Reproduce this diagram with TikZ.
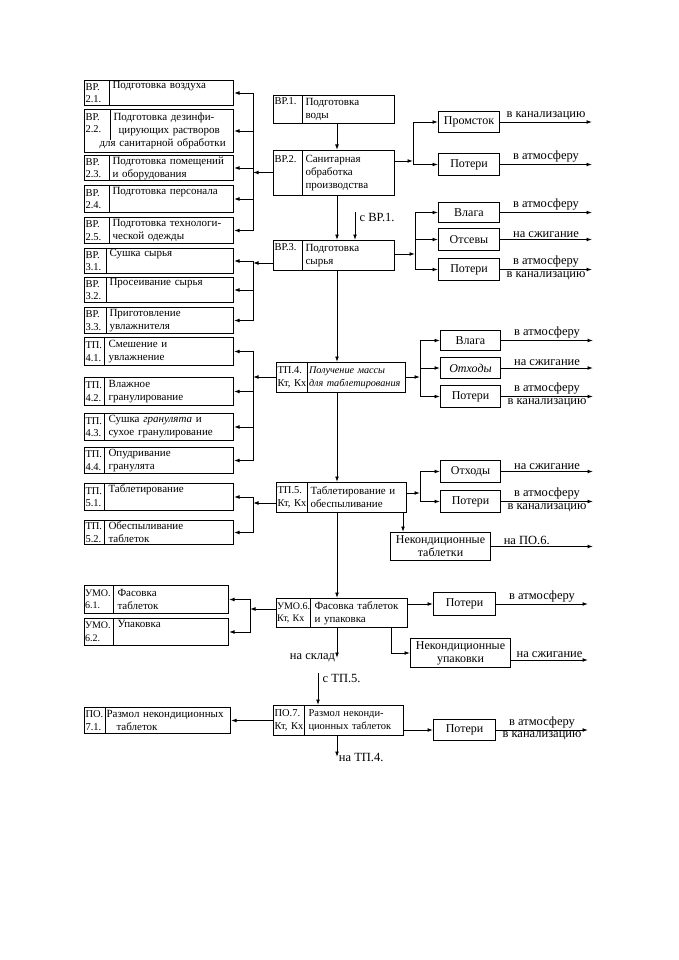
\documentclass[tikz,border=0pt]{standalone}
\usepackage{fontspec}
\setmainfont{Liberation Serif}
\usetikzlibrary{arrows.meta}

\begin{document}
\begin{tikzpicture}[x=1pt,y=-1pt,>={Latex[length=5.5pt,width=3.8pt]},
  font=\fontsize{11}{13}\selectfont,
  idcell/.style={draw,line width=1pt,anchor=north west,align=left,inner xsep=1pt,inner ysep=0pt,font=\fontsize{10.5}{12.5}\selectfont},
  namecell/.style={draw,line width=1pt,anchor=north west,align=left,inner xsep=3pt,inner ysep=0pt},
  outbox/.style={draw,line width=1pt,anchor=north west,align=center,inner sep=1pt,font=\fontsize{12}{13}\selectfont},
  flow/.style={->,line width=0.9pt},
  outlbl/.style={inner sep=1.5pt,font=\fontsize{12.5}{13}\selectfont}]
\useasboundingbox (0,0) rectangle (678,960);
\coordinate (spine) at (337,0);
\coordinate (rimA) at (592,0);
\coordinate (rimB) at (593,0);
\coordinate (rimC) at (588,0);

\node[idcell,minimum width=29pt,minimum height=28pt,text width=27pt] (vr1id) at (273,95) {ВР.1.\\\strut};
\node[namecell,minimum width=92pt,minimum height=28pt,text width=86pt] (vr1) at (302,95) {Подготовка\\воды};
\node[idcell,minimum width=29pt,minimum height=45pt,text width=27pt] (vr2id) at (273,150) {ВР.2.\\\strut\\\strut};
\node[namecell,minimum width=92pt,minimum height=45pt,text width=86pt] (vr2) at (302,150) {Санитарная\\обработка\\производства};
\node[idcell,minimum width=29pt,minimum height=30pt,text width=27pt] (vr3id) at (273,240) {ВР.3.\\\strut};
\node[namecell,minimum width=92pt,minimum height=30pt,text width=86pt] (vr3) at (302,240) {Подготовка\\сырья};
\node[idcell,minimum width=31pt,minimum height=30pt,text width=29pt] (tp4id) at (276,362) {ТП.4.\\Кт, Кх};
\node[namecell,minimum width=98pt,minimum height=30pt,text width=95pt,inner xsep=1.5pt,font=\fontsize{10.2}{13}\selectfont\itshape] (tp4) at (307,362) {Получение массы\\для таблетирования};
\node[idcell,minimum width=31pt,minimum height=30pt,text width=29pt] (tp5id) at (276,482) {ТП.5.\\Кт, Кх};
\node[namecell,minimum width=99pt,minimum height=30pt,text width=93pt] (tp5) at (307,482) {Таблетирование и\\обеспыливание};
\node[idcell,minimum width=34pt,minimum height=29pt,text width=33pt,inner xsep=0.5pt,font=\fontsize{10}{12.5}\selectfont] (umo6id) at (276,598) {УМО.6.\\Кт, Кх};
\node[namecell,minimum width=97pt,minimum height=29pt,text width=89pt,inner xsep=4pt] (umo6) at (310,598) {Фасовка таблеток\\и упаковка};
\node[idcell,minimum width=31pt,minimum height=30pt,text width=29pt] (po7id) at (273,705) {ПО.7.\\Кт, Кх};
\node[namecell,minimum width=99pt,minimum height=30pt,text width=91pt,inner xsep=4pt,font=\fontsize{10.5}{13}\selectfont] (po7) at (304,705) {Размол неконди-\\ционных таблеток};

\node[idcell,minimum width=25pt,minimum height=25pt,text width=23pt] (vr21id) at (84,80) {ВР.\\2.1.};
\node[namecell,minimum width=124pt,minimum height=25pt,text width=118pt] (vr21) at (109,80) {Подготовка воздуха\\\strut};
\node[idcell,draw=none,minimum width=25pt,minimum height=43pt,text width=23pt] (vr22id) at (84,109) {ВР.\\2.2.\\\strut};
\node[namecell,minimum width=149pt,minimum height=43pt,text width=145pt,inner xsep=2pt] (vr22) at (84,109) {\hspace*{27pt}Подготовка дезинфи-\\\hspace*{32pt}цирующих растворов\\\hspace*{13pt}для санитарной обработки};
\draw[line width=1pt] (vr22id.north east) -- ++(0,31);
\node[idcell,minimum width=25pt,minimum height=25pt,text width=23pt] (vr23id) at (84,155) {ВР.\\2.3.};
\node[namecell,minimum width=124pt,minimum height=25pt,text width=118pt] (vr23) at (109,155) {Подготовка помещений\\и оборудования};
\node[idcell,minimum width=25pt,minimum height=27pt,text width=23pt] (vr24id) at (84,185) {ВР.\\2.4.};
\node[namecell,minimum width=124pt,minimum height=27pt,text width=118pt] (vr24) at (109,185) {Подготовка персонала\\\strut};
\node[idcell,minimum width=25pt,minimum height=26pt,text width=23pt] (vr25id) at (84,217) {ВР.\\2.5.};
\node[namecell,minimum width=124pt,minimum height=26pt,text width=118pt] (vr25) at (109,217) {Подготовка технологи-\\ческой одежды};
\node[idcell,minimum width=22pt,minimum height=25pt,text width=20pt] (vr31id) at (84,248) {ВР.\\3.1.};
\node[namecell,minimum width=127pt,minimum height=25pt,text width=121pt] (vr31) at (106,248) {Сушка сырья\\\strut};
\node[idcell,minimum width=22pt,minimum height=25pt,text width=20pt] (vr32id) at (84,277) {ВР.\\3.2.};
\node[namecell,minimum width=127pt,minimum height=25pt,text width=121pt] (vr32) at (106,277) {Просеивание сырья\\\strut};
\node[idcell,minimum width=22pt,minimum height=26pt,text width=20pt] (vr33id) at (84,307) {ВР.\\3.3.};
\node[namecell,minimum width=127pt,minimum height=26pt,text width=121pt] (vr33) at (106,307) {Приготовление\\увлажнителя};
\node[idcell,minimum width=20pt,minimum height=28pt,text width=18pt] (tp41id) at (84,337) {ТП.\\4.1.};
\node[namecell,minimum width=129pt,minimum height=28pt,text width=121pt,inner xsep=4pt] (tp41) at (104,337) {Смешение и\\увлажнение};
\node[idcell,minimum width=20pt,minimum height=28pt,text width=18pt] (tp42id) at (84,377) {ТП.\\4.2.};
\node[namecell,minimum width=129pt,minimum height=28pt,text width=121pt,inner xsep=4pt] (tp42) at (104,377) {Влажное\\гранулирование};
\node[idcell,minimum width=20pt,minimum height=27pt,text width=18pt] (tp43id) at (84,413) {ТП.\\4.3.};
\node[namecell,minimum width=129pt,minimum height=27pt,text width=121pt,inner xsep=4pt] (tp43) at (104,413) {Сушка \textit{гранулята} и\\сухое гранулирование};
\node[idcell,minimum width=20pt,minimum height=26pt,text width=18pt] (tp44id) at (84,447) {ТП.\\4.4.};
\node[namecell,minimum width=129pt,minimum height=26pt,text width=121pt,inner xsep=4pt] (tp44) at (104,447) {Опудривание\\гранулята};
\node[idcell,minimum width=20pt,minimum height=27pt,text width=18pt] (tp51id) at (84,483) {ТП.\\5.1.};
\node[namecell,minimum width=129pt,minimum height=27pt,text width=121pt,inner xsep=4pt] (tp51) at (104,483) {Таблетирование\\\strut};
\node[idcell,minimum width=20pt,minimum height=24pt,text width=18pt] (tp52id) at (84,520) {ТП.\\5.2.};
\node[namecell,minimum width=129pt,minimum height=24pt,text width=121pt,inner xsep=4pt] (tp52) at (104,520) {Обеспыливание\\таблеток};
\node[idcell,minimum width=29pt,minimum height=28pt,text width=28pt,inner xsep=0.5pt,font=\fontsize{10}{12.5}\selectfont] (umo61id) at (84,585) {УМО.\\6.1.};
\node[namecell,minimum width=115pt,minimum height=28pt,text width=107pt,inner xsep=4pt] (umo61) at (113,585) {Фасовка\\таблеток};
\node[idcell,minimum width=29pt,minimum height=27pt,text width=28pt,inner xsep=0.5pt,font=\fontsize{10}{12.5}\selectfont] (umo62id) at (84,618) {УМО.\\6.2.};
\node[namecell,minimum width=115pt,minimum height=27pt,text width=107pt,inner xsep=4pt] (umo62) at (113,618) {Упаковка\\\strut};
\node[idcell,minimum width=21pt,minimum height=26pt,text width=19pt] (po71id) at (84,707) {ПО.\\7.1.};
\node[namecell,minimum width=125pt,minimum height=26pt,text width=123pt,inner xsep=1pt] (po71) at (105,707) {Размол некондиционных\\\hspace*{10pt}таблеток};

\node[outbox,minimum width=61pt,minimum height=21pt] (promstok) at (438,111) {Промсток};
\node[outbox,minimum width=61pt,minimum height=22pt] (poteri1) at (438,153) {Потери};
\node[outbox,minimum width=61pt,minimum height=20pt] (vlaga3) at (438,202) {Влага};
\node[outbox,minimum width=61pt,minimum height=22pt] (otsevy) at (438,228) {Отсевы};
\node[outbox,minimum width=61pt,minimum height=22pt] (poteri3) at (438,258) {Потери};
\node[outbox,minimum width=60pt,minimum height=20pt] (vlaga4) at (440,330) {Влага};
\node[outbox,minimum width=60pt,minimum height=21pt,font=\fontsize{12}{13}\selectfont\itshape] (othody4) at (440,357) {Отходы};
\node[outbox,minimum width=60pt,minimum height=22pt] (poteri4) at (440,385) {Потери};
\node[outbox,minimum width=60pt,minimum height=22pt] (othody5) at (440,460) {Отходы};
\node[outbox,minimum width=60pt,minimum height=22pt] (poteri5) at (440,490) {Потери};
\node[outbox,minimum width=100pt,minimum height=28pt] (nektab) at (390,532) {Некондиционные\\таблетки};
\node[outbox,minimum width=62pt,minimum height=23pt] (poteri6) at (433,592) {Потери};
\node[outbox,minimum width=100pt,minimum height=29pt] (nekup) at (410,638) {Некондиционные\\упаковки};
\node[outbox,minimum width=62pt,minimum height=21pt] (poteri7) at (433,719) {Потери};

\coordinate (fromvr1) at (355,212);
\coordinate (tostore) at (337,658);
\coordinate (fromtp5) at (318,673);
\coordinate (totp4) at (337,757);
\draw[flow] (vr1.south -| spine) -- (vr2.north -| spine);
\draw[flow] (vr2.south -| spine) -- (vr3.north -| spine);
\draw[flow] (fromvr1) -- (fromvr1 |- vr3.north);
\node[anchor=north west,outlbl] (fromvr1lbl) at ([xshift=3pt]fromvr1) {с ВР.1.};
\draw[flow] (vr3.south -| spine) -- (tp4.north -| spine);
\draw[flow] (tp4.south -| spine) -- (tp5.north -| spine);
\draw[flow] (tp5.south -| spine) -- (umo6.north -| spine);
\draw[flow] (umo6.south -| spine) -- (tostore) node[left,outlbl] (tostorelbl) {на склад};
\draw[flow] (fromtp5) -- (fromtp5 |- po7.north);
\node[anchor=north west,outlbl] (fromtp5lbl) at ([xshift=3pt]fromtp5) {с ТП.5.};
\draw[flow] (po7.south -| spine) -- (totp4) node[right,outlbl] (totp4lbl) {на ТП.4.};

\coordinate (vr2l) at (253,172.5);
\coordinate (vr3l) at (253,263);
\coordinate (tp4l) at (253,377);
\coordinate (tp5l) at (253,503);
\coordinate (umo6l) at (250,609);
\draw[flow] (vr2l -| vr2id.west) -- (vr2l);
\draw[flow] (vr2l) |- (vr21.east);
\draw[flow] (vr2l) |- (vr22.east);
\draw[flow] (vr2l) |- (vr23.east);
\draw[flow] (vr2l) |- (vr24.east);
\draw[flow] (vr2l) |- (vr25.east);
\draw[flow] (vr3l -| vr3id.west) -- (vr3l);
\draw[flow] (vr3l) |- (vr31.east);
\draw[flow] (vr3l) |- (vr32.east);
\draw[flow] (vr3l) |- (vr33.east);
\draw[flow] (tp4l -| tp4id.west) -- (tp4l);
\draw[flow] (tp4l) |- (tp41.east);
\draw[flow] (tp4l) |- (tp42.east);
\draw[flow] (tp4l) |- (tp43.east);
\draw[flow] (tp4l) |- (tp44.east);
\draw[flow] (tp5l -| tp5id.west) -- (tp5l);
\draw[flow] (tp5l) |- (tp51.east);
\draw[flow] (tp5l) |- (tp52.east);
\draw[flow] (umo6l -| umo6id.west) -- (umo6l);
\draw[flow] (umo6l) |- (umo61.east);
\draw[flow] (umo6l) |- (umo62.east);
\draw[flow] (po7id.west) -- (po71.east);

\coordinate (vr2r) at (413,161);
\coordinate (vr3r) at (415,254);
\coordinate (tp4r) at (420,377);
\coordinate (tp5r) at (420,493);
\draw[flow] (vr2r -| vr2.east) -- (vr2r);
\draw[flow] (vr2r) |- (promstok.west);
\draw[flow] (vr2r) |- (poteri1.west);
\draw[flow] (vr3r -| vr3.east) -- (vr3r);
\draw[flow] (vr3r) |- (vlaga3.west);
\draw[flow] (vr3r) |- (otsevy.west);
\draw[flow] (vr3r) |- (poteri3.west);
\draw[flow] (tp4r -| tp4.east) -- (tp4r);
\draw[flow] (tp4r) |- (vlaga4.west);
\draw[flow] (tp4r) |- (othody4.west);
\draw[flow] (tp4r) |- (poteri4.west);
\draw[flow] (tp5r -| tp5.east) -- (tp5r);
\draw[flow] (tp5r) |- (othody5.west);
\draw[flow] (tp5r) |- (poteri5.west);
\draw[flow] ([xshift=-4pt]tp5.south east) -- ([xshift=-4pt]tp5.south east |- nektab.north);
\draw[flow] (umo6.east |- poteri6.west) -- (poteri6.west);
\draw[flow] ([xshift=-17pt]umo6.south east) |- (nekup.west);
\draw[flow] (po7.east |- poteri7.west) -- (poteri7.west);

\draw[flow] (promstok.east) -- (promstok.east -| rimA) node[midway,above,outlbl] (o1) {в канализацию};
\draw[flow] (poteri1.east) -- (poteri1.east -| rimA) node[midway,above,outlbl] (o2) {в атмосферу};
\draw[flow] (vlaga3.east) -- (vlaga3.east -| rimA) node[midway,above,outlbl] (o3) {в атмосферу};
\draw[flow] (otsevy.east) -- (otsevy.east -| rimA) node[midway,above,outlbl] (o4) {на сжигание};
\draw[flow] (poteri3.east) -- (poteri3.east -| rimA) node[midway,above,outlbl] (o5) {в атмосферу} node[midway,below,outlbl] (o6) {в канализацию};
\draw[flow] (vlaga4.east) -- (vlaga4.east -| rimB) node[midway,above,outlbl] (o7) {в атмосферу};
\draw[flow] (othody4.east) -- (othody4.east -| rimB) node[midway,above,outlbl] (o8) {на сжигание};
\draw[flow] (poteri4.east) -- (poteri4.east -| rimB) node[midway,above,outlbl] (o9) {в атмосферу} node[midway,below,outlbl] (o10) {в канализацию};
\draw[flow] (othody5.east) -- (othody5.east -| rimB) node[midway,above,outlbl] (o11) {на сжигание};
\draw[flow] (poteri5.east) -- (poteri5.east -| rimB) node[midway,above,outlbl] (o12) {в атмосферу} node[midway,below,outlbl] (o13) {в канализацию};
\draw[flow] (nektab.east) -- (nektab.east -| rimB) node[pos=0.35,above,outlbl] (o14) {на ПО.6.};
\draw[flow] (poteri6.east) -- (poteri6.east -| rimC) node[midway,above,outlbl] (o15) {в атмосферу};
\draw[flow] ([yshift=-7pt]nekup.east) -- ([yshift=-7pt]nekup.east -| rimC) node[midway,above,outlbl] (o16) {на сжигание};
\draw[flow] (poteri7.east) -- (poteri7.east -| rimC) node[midway,above,outlbl] (o17) {в атмосферу} node[midway,below,outlbl] (o18) {в канализацию};
\end{tikzpicture}
\end{document}
